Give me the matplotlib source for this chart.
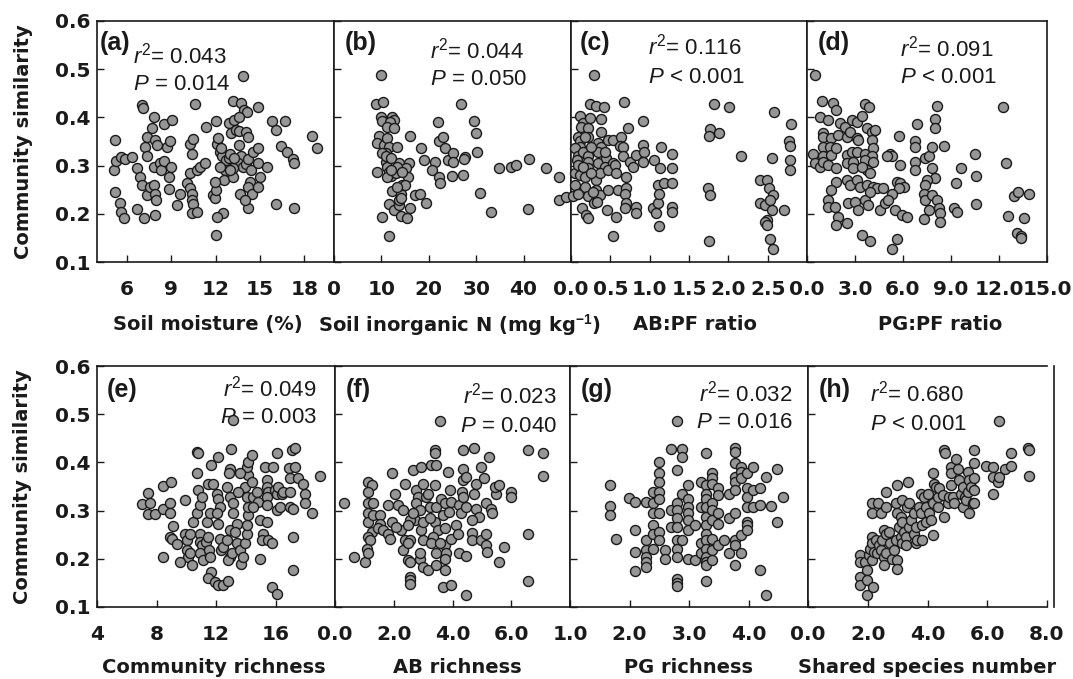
import matplotlib
matplotlib.use('Agg')
import matplotlib.pyplot as plt

plt.rcParams['mathtext.fontset'] = 'custom'
plt.rcParams['mathtext.rm'] = 'Liberation Sans'
plt.rcParams['mathtext.it'] = 'Liberation Sans:italic'
plt.rcParams['mathtext.bf'] = 'Liberation Sans:bold'

# ---------------- data (x, community similarity) ----------------
soil_moisture = [
    (5.22,.353),(5.15,.291),(5.22,.246),(5.27,.310),(5.6,.317),(5.87,.313),(6.38,.317),(5.53,.222),(5.6,.204),(5.82,.191),
    (6.71,.209),(6.71,.294),(6.93,.277),(7.05,.426),(7.11,.419),(7.2,.191),(7.38,.360),(7.27,.339),(7.38,.319),(7.05,.260),
    (7.38,.239),(7.6,.256),(7.87,.260),(7.94,.242),(8.0,.229),(7.71,.377),(7.83,.401),(7.94,.353),(8.05,.343),(7.87,.298),
    (8.22,.305),(8.3,.290),(7.94,.198),(8.5,.386),(9.05,.395),(8.72,.339),(8.94,.350),(8.5,.310),(9.0,.298),(8.83,.277),
    (8.83,.251),(9.6,.242),(9.38,.218),(10.05,.263),(10.27,.253),(10.38,.242),(10.38,.229),(10.45,.220),(10.38,.201),(10.76,.203),
    (10.27,.284),(10.38,.324),(10.31,.345),(10.5,.355),(10.6,.427),(10.72,.291),(10.94,.298),(11.28,.306),(11.39,.381),(11.84,.239),
    (11.95,.232),(12.0,.249),(12.0,.155),(12.0,.393),(12.1,.345),(12.16,.357),(12.28,.329),(12.45,.319),(12.39,.336),(12.61,.291),
    (12.55,.271),(12.73,.312),(12.9,.315),(12.9,.388),(13.06,.367),(13.17,.433),(13.28,.395),(13.39,.374),(13.57,.372),(13.72,.429),
    (13.84,.486),(13.95,.415),(14.1,.412),(13.62,.401),(14.06,.370),(14.17,.360),(13.62,.343),(13.73,.319),(13.5,.305),(13.84,.298),
    (13.66,.241),(14.06,.303),(14.17,.313),(14.39,.290),(14.33,.267),(14.17,.256),(14.44,.242),(14.17,.213),(14.5,.329),(14.84,.336),
    (14.84,.422),(14.84,.306),(15.0,.277),(14.84,.255),(15.5,.298),(15.8,.393),(16.07,.374),(16.07,.220),(16.4,.341),(16.7,.393),
    (16.85,.328),(17.25,.313),(17.3,.305),(17.3,.211),(18.5,.361),(18.85,.337),
    (12.28,.298),(13.17,.294),(13.17,.277),(12.95,.325),(12.5,.201),(12.1,.194),(13.28,.315),(12.95,.291),(11.95,.267),(14.02,.229),
]

soil_n = [
    (9.84,.487),(8.8,.427),(10.4,.431),(9.84,.401),(10.2,.393),(12.3,.401),(12.63,.395),(11.8,.391),(11.24,.381),(12.63,.379),
    (9.49,.361),(9.14,.346),(10.54,.343),(11.24,.357),(11.58,.339),(13.33,.339),(10.89,.327),(16.12,.361),(9.14,.287),
    (10.89,.308),(11.24,.298),(11.58,.287),(11.93,.278),(11.24,.277),(13.68,.306),(15.77,.306),(15.28,.294),(15.56,.277),
    (12.28,.248),(11.58,.220),(12.63,.207),(13.68,.218),(13.68,.229),(14.03,.242),(14.38,.260),(15.07,.260),
    (14.03,.196),(15.42,.191),(15.98,.211),(10.19,.194),(11.58,.154),(17.17,.239),(18.21,.242),(19.47,.222),
    (18.35,.336),(19.05,.312),(21.35,.308),(20.66,.290),(22.05,.277),(22.4,.263),(21.84,.391),(22.05,.350),(23.1,.360),(23.45,.336),
    (24.15,.312),(25.05,.327),(25.19,.308),(24.84,.278),(26.73,.427),(27.63,.317),(27.42,.313),(27.28,.280),
    (29.52,.393),(29.94,.368),(30.08,.329),(30.77,.244),(33.08,.204),(34.82,.294),(37.4,.297),(38.45,.301),
    (41.24,.314),(41.03,.210),(44.73,.294),(47.52,.277),(47.38,.229),(48.92,.234),
    (10.2,.326),(10.89,.319),(11.93,.315),(12.98,.284),(13.33,.298),(14.38,.287),(11.93,.291),(13.33,.256),(14.03,.232),
]

ab_pf_ratio = [
    (0.113,.402),(0.155,.388),(0.24,.398),(0.126,.381),(0.218,.377),(0.387,.396),(0.387,.370),(0.092,.360),(0.113,.350),(0.218,.360),
    (0.113,.339),(0.05,.336),(0.345,.346),(0.387,.339),(0.47,.353),(0.534,.353),(0.639,.360),(0.618,.341),(0.66,.339),(0.092,.319),
    (0.155,.329),(0.218,.319),(0.071,.312),(0.218,.308),(0.345,.329),(0.345,.305),(0.45,.315),(0.429,.298),(0.534,.305),(0.66,.319),
    (0.744,.308),(0.828,.322),(0.912,.343),(0.933,.329),(0.912,.308),(1.059,.312),(1.143,.338),(1.134,.294),(1.29,.324),(1.29,.294),
    (0.05,.284),(0.113,.280),(0.218,.294),(0.176,.277),(0.324,.270),(0.366,.284),(0.47,.291),(0.555,.301),(0.702,.277),(0.05,.260),
    (0.176,.256),(0.218,.236),(0.324,.249),(0.324,.229),(0.366,.239),(0.47,.249),(0.597,.249),(0.702,.253),(0.681,.242),(0.134,.211),
    (0.197,.198),(0.21,.191),(0.294,.222),(0.336,.225),(0.462,.207),(0.576,.194),(0.702,.222),(0.681,.211),(0.828,.215),(0.828,.201),
    (1.038,.211),(1.10,.222),(1.08,.201),(1.122,.175),(1.10,.260),(1.113,.242),(1.185,.263),(1.29,.263),(1.28,.215),(1.29,.204),
    (0.534,.154),(0.294,.487),(0.24,.427),(0.324,.424),(0.42,.421),(0.672,.431),(0.92,.393),(0.723,.379),
    (1.824,.427),(2.013,.421),(1.765,.375),(1.752,.361),(1.878,.367),(2.16,.319),(1.74,.253),(1.773,.239),(1.752,.144),
    (2.58,.412),(2.794,.386),(2.773,.352),(2.78,.341),(2.78,.312),(2.78,.291),(2.55,.316),(2.403,.270),(2.496,.270),(2.52,.253),
    (2.571,.239),(2.403,.223),(2.466,.218),(2.53,.229),(2.55,.207),(2.487,.187),(2.466,.182),(2.496,.177),(2.71,.208),(2.53,.147),
    (2.563,.128),
    (0.02,.236),(0.092,.301),(0.155,.298),(0.26,.284),(0.26,.339),(0.176,.360),(0.092,.242),(0.28,.246),(0.429,.329),(0.576,.284),
    (0.786,.298),
]

pg_pf_ratio = [
    (0.48,.487),(0.96,.433),(1.64,.429),(1.8,.415),(0.8,.401),(1.32,.395),(3.63,.428),(3.9,.421),
    (2.05,.388),(2.37,.381),(2.79,.395),(3.1,.391),(3.42,.402),(1.0,.367),(1.0,.360),(1.53,.357),(1.0,.339),(1.43,.339),
    (1.95,.363),(2.47,.360),(2.68,.370),(3.1,.357),(3.21,.353),(3.73,.377),(4.05,.370),(4.26,.374),(4.05,.353),(0.38,.325),
    (1.0,.319),(1.53,.322),(1.84,.336),(2.47,.322),(2.79,.329),(3.1,.329),(3.63,.325),(4.15,.336),(4.05,.319),(0.48,.305),
    (0.8,.298),(1.0,.308),(1.32,.301),(1.84,.294),(2.47,.305),(2.89,.308),(2.89,.294),(3.63,.312),(4.15,.308),(3.73,.291),
    (3.42,.298),(3.94,.284),(1.84,.265),(2.47,.270),(2.68,.260),(3.1,.270),(3.31,.256),(3.73,.260),(4.15,.256),(4.36,.253),
    (4.78,.253),(1.53,.249),(1.32,.229),(1.32,.215),(1.74,.215),(1.95,.194),(1.8,.177),(2.47,.180),(2.58,.222),(3.0,.225),
    (3.21,.208),(3.63,.229),(3.84,.218),(3.94,.246),(4.57,.207),(4.88,.222),(3.42,.156),(3.94,.144),(5.2,.325),(5.3,.319),
    (4.99,.319),(5.83,.301),(5.72,.361),(5.62,.267),(5.83,.263),(6.04,.256),(5.72,.253),(5.3,.242),(5.09,.229),(5.51,.208),
    (5.93,.198),(6.25,.194),(5.62,.147),(5.3,.128),(6.88,.386),(6.77,.350),(6.77,.339),(6.77,.308),(6.77,.291),(7.4,.315),
    (7.61,.319),(7.82,.339),(8.55,.341),(8.13,.424),(8.03,.396),(8.03,.379),(7.82,.294),(8.03,.274),(7.5,.270),(7.4,.260),
    (7.3,.242),(7.4,.229),(7.82,.239),(8.13,.229),(7.61,.208),(8.24,.211),(8.34,.201),(8.34,.184),(7.3,.189),
    (9.29,.263),(9.6,.294),(9.18,.211),(9.4,.204),(10.48,.324),(10.59,.278),(10.55,.220),(12.22,.421),(12.43,.305),(12.54,.196),
    (12.96,.236),(13.17,.245),(13.9,.242),(13.58,.191),(13.12,.161),(13.37,.153),(13.4,.149),
]

community_richness = [
    (10.70,.377),(10.70,.422),(10.77,.419),(10.48,.277),(10.70,.294),(10.93,.311),(9.92,.322),(9.92,.252),(10.03,.239),(10.03,.218),
    (10.14,.204),(10.26,.211),(10.37,.187),(10.93,.252),(10.93,.235),(11.04,.228),(10.93,.211),(11.15,.197),(11.33,.235),(11.49,.245),
    (11.56,.218),(11.60,.204),(11.65,.173),(11.49,.161),(11.94,.152),(12.16,.145),(12.50,.145),(12.83,.153),(11.38,.277),(11.60,.294),
    (11.49,.356),(11.83,.356),(11.65,.394),(12.16,.412),(12.05,.335),(12.16,.325),(12.27,.308),(12.05,.294),(12.16,.273),(12.27,.242),
    (12.32,.218),(12.50,.225),(12.72,.239),(12.95,.259),(12.95,.204),(12.83,.197),(13.06,.211),(12.99,.427),(12.95,.387),(12.90,.377),
    (12.72,.349),(12.95,.329),(13.17,.315),(13.17,.294),(13.39,.273),(13.28,.256),(13.39,.232),(13.62,.218),(13.66,.190),(13.84,.204),
    (13.96,.232),(14.07,.252),(14.11,.270),(14.18,.290),(14.18,.308),(14.07,.329),(13.96,.349),(14.18,.374),(14.07,.391),(14.18,.401),
    (13.17,.488),(14.40,.360),(14.52,.329),(14.74,.339),(14.85,.318),(14.96,.280),(15.19,.252),(15.08,.239),(14.96,.200),(14.52,.308),
    (15.30,.391),(15.41,.363),(15.41,.349),(15.52,.339),(15.41,.329),(15.41,.311),(15.41,.277),(15.52,.239),(15.75,.232),(15.86,.391),
    (15.97,.342),(16.09,.335),(16.09,.301),(16.20,.349),(16.31,.308),(16.42,.335),(16.53,.339),(16.09,.420),(15.75,.142),(16.09,.126),
    (16.94,.389),(16.98,.367),(16.98,.339),(16.98,.308),(17.09,.425),(17.16,.245),(17.21,.304),(17.32,.391),(17.21,.176),(17.32,.429),
    (17.54,.367),(17.88,.356),(17.99,.335),(17.99,.315),(18.44,.294),(19.0,.372),
    (7.0,.313),(7.45,.337),(7.56,.316),(7.41,.292),(7.90,.293),(8.46,.304),(8.42,.351),(8.96,.360),(8.91,.315),(8.91,.294),
    (9.13,.268),(8.91,.246),(9.02,.242),(8.42,.204),(9.40,.230),(9.58,.193),
    (10.82,.342),(13.5,.339),(13.62,.377),(14.4,.415),(11.04,.329),(10.26,.252),
]

ab_richness = [
    (0.29,.316),(0.63,.204),(1.02,.193),
    (1.14,.360),(1.25,.353),(1.14,.339),(1.14,.315),(1.31,.315),(1.14,.294),(1.14,.277),(1.31,.290),(1.53,.290),(1.53,.273),
    (1.25,.256),(1.14,.245),(1.19,.239),(1.08,.221),(1.14,.211),(1.48,.263),(1.64,.259),(1.81,.252),(1.87,.242),(1.93,.277),
    (1.81,.311),(2.04,.335),(1.93,.378),(2.15,.311),(2.38,.356),(2.32,.301),(2.26,.259),(2.38,.239),(2.32,.218),(2.64,.385),
    (2.94,.391),(2.77,.342),(2.83,.329),(2.77,.315),(2.88,.301),(2.71,.280),(2.55,.280),(2.49,.270),(2.55,.239),(2.49,.232),
    (2.66,.294),(2.49,.197),(2.55,.193),(2.55,.162),(2.55,.155),(2.55,.148),(2.88,.200),(3.0,.183),(2.88,.211),(3.0,.239),
    (2.94,.259),(3.0,.277),(3.11,.329),(3.16,.335),(3.22,.308),(3.0,.356),(3.16,.176),(3.39,.425),(3.42,.419),(3.28,.394),
    (3.45,.394),(3.39,.353),(3.45,.308),(3.39,.277),(3.50,.259),(3.33,.245),(3.28,.232),(3.45,.211),(3.45,.187),(3.61,.325),
    (3.73,.315),(3.67,.290),(3.73,.263),(3.73,.228),(3.78,.211),(3.76,.200),(3.73,.176),(3.84,.380),(3.90,.342),(3.95,.318),
    (3.87,.297),(3.95,.242),(3.67,.142),(3.95,.145),(3.56,.486),(4.12,.270),(4.18,.251),(4.23,.211),(4.46,.205),(4.23,.311),
    (4.29,.294),(4.35,.363),(4.35,.387),(4.32,.339),(4.35,.329),(4.37,.425),(4.46,.308),(4.46,.370),(4.74,.429),(4.80,.356),
    (4.74,.335),(4.80,.304),(4.91,.287),(4.66,.254),(4.68,.239),(4.97,.239),(5.14,.228),(5.19,.214),(4.97,.391),(5.08,.367),
    (5.14,.252),(5.14,.316),(5.30,.304),(5.25,.412),(5.36,.294),(5.47,.335),(5.45,.349),(5.59,.353),(5.75,.225),(5.59,.193),
    (5.98,.339),(5.98,.329),(6.57,.425),(6.57,.251),(6.57,.154),(7.07,.419),(7.07,.371),(4.46,.124),
    (2.09,.266),(3.22,.284),(3.56,.232),(4.68,.280),
]

pg_richness = [
    (1.68,.353),(1.68,.310),(1.68,.291),(1.78,.242),(1.99,.327),
    (2.09,.318),(2.09,.259),(2.09,.214),(2.09,.175),
    (2.28,.317),(2.28,.239),(2.28,.218),(2.28,.204),(2.28,.193),(2.28,.183),
    (2.39,.339),(2.39,.315),(2.39,.294),(2.39,.270),(2.39,.252),(2.39,.221),
    (2.50,.401),(2.50,.377),(2.50,.360),(2.50,.339),(2.50,.325),(2.50,.294),(2.50,.256),(2.50,.240),
    (2.59,.218),(2.59,.200),(2.69,.427),(2.69,.301),(2.69,.266),
    (2.79,.385),(2.79,.315),(2.79,.301),(2.79,.284),(2.79,.266),(2.79,.240),(2.79,.221),(2.79,.204),(2.79,.159),(2.79,.150),(2.79,.143),
    (2.79,.486),
    (2.89,.427),(2.89,.412),(2.89,.335),(2.89,.239),
    (2.98,.353),(2.98,.325),(2.98,.308),(2.98,.294),(2.98,.280),(2.98,.259),(2.98,.200),
    (3.10,.270),(3.10,.197),
    (3.20,.360),(3.20,.308),(3.20,.232),(3.20,.211),
    (3.29,.419),(3.29,.353),(3.29,.335),(3.29,.325),(3.29,.308),(3.29,.287),(3.29,.270),(3.29,.252),(3.29,.239),(3.29,.221),
    (3.29,.204),(3.29,.193),(3.29,.187),(3.29,.154),
    (3.39,.377),(3.39,.367),(3.39,.356),(3.39,.315),(3.39,.301),(3.39,.280),(3.39,.242),(3.39,.218),(3.39,.197),
    (3.49,.346),(3.49,.332),(3.49,.294),(3.49,.273),(3.49,.228),(3.59,.239),
    (3.68,.335),(3.68,.284),(3.68,.211),
    (3.78,.429),(3.78,.422),(3.78,.398),(3.78,.370),(3.78,.360),(3.78,.342),(3.78,.294),(3.78,.239),(3.78,.228),(3.78,.187),
    (3.88,.391),(3.88,.380),(3.88,.367),(3.88,.249),(3.88,.211),
    (3.98,.377),(3.98,.346),(3.98,.329),(3.98,.308),(3.98,.277),(3.98,.270),(3.98,.259),
    (4.08,.391),(4.08,.342),(4.08,.308),(4.19,.346),(4.19,.311),(4.19,.176),
    (4.29,.370),(4.38,.310),(4.48,.387),(4.48,.277),(4.58,.329),(4.29,.124),
]

shared_species = [
    (1.75,.207),(1.75,.193),(1.73,.162),(1.75,.145),(1.92,.193),(1.96,.176),(1.96,.155),(1.98,.124),(2.03,.207),(2.15,.197),
    (2.18,.142),(2.09,.221),(2.15,.245),(2.15,.232),(2.20,.214),(2.26,.239),(2.31,.211),(2.37,.228),(2.43,.218),(2.48,.239),
    (2.54,.204),(2.54,.187),(2.60,.211),(2.15,.315),(2.15,.294),(2.34,.315),(2.43,.294),(2.60,.308),(2.60,.339),(2.54,.259),
    (2.60,.252),(2.71,.256),(2.76,.232),(2.82,.200),(2.88,.218),(2.93,.239),(2.99,.197),(2.99,.178),(2.93,.315),(2.99,.294),
    (3.10,.287),(3.04,.266),(3.10,.245),(3.16,.232),(2.99,.353),(3.16,.322),(3.16,.277),(3.21,.256),(3.27,.245),(3.27,.228),
    (3.33,.308),(3.35,.360),(3.38,.315),(3.38,.266),(3.44,.280),(3.55,.294),(3.55,.252),(3.61,.266),(3.61,.232),(3.66,.239),
    (3.72,.308),(3.78,.294),(3.78,.335),(3.83,.270),(3.83,.239),(3.89,.329),(3.94,.308),(3.94,.277),(4.0,.335),(4.06,.294),
    (4.11,.280),(4.17,.249),(4.17,.377),(4.22,.356),(4.17,.315),(4.28,.349),(4.34,.308),(4.34,.329),(4.39,.346),(4.51,.332),
    (4.56,.287),(4.56,.425),(4.58,.420),(4.67,.315),(4.73,.329),(4.79,.391),(4.79,.377),(4.79,.353),(4.84,.329),(4.90,.315),
    (4.96,.408),(5.01,.387),(5.07,.363),(5.12,.335),(5.18,.308),(5.18,.349),(5.24,.329),(5.29,.322),(5.35,.380),(5.35,.339),
    (5.40,.295),(5.40,.363),(5.46,.349),(5.52,.315),(5.55,.425),(5.57,.398),(5.57,.367),(5.57,.342),(5.57,.315),(5.97,.392),
    (6.19,.391),(6.19,.370),(6.19,.335),(6.36,.360),(6.38,.369),(6.58,.387),(6.79,.392),(6.79,.420),(7.37,.429),(7.39,.425),
    (7.39,.372),(6.39,.486),
]

panel_letters = ['(a)', '(b)', '(c)', '(d)', '(e)', '(f)', '(g)', '(h)']
x_labels = ['Soil moisture (%)', 'Soil inorganic N (mg kg$^{\\mathbf{-1}}$)', 'AB:PF ratio', 'PG:PF ratio',
            'Community richness', 'AB richness', 'PG richness', 'Shared species number']
r2_values = ['0.043', '0.044', '0.116', '0.091', '0.049', '0.023', '0.032', '0.680']
p_values = ['= 0.014', '= 0.050', '< 0.001', '< 0.001', '= 0.003', '= 0.040', '= 0.016', '< 0.001']
x_limits = [(4, 20), (0, 50), (0, 3), (0, 15), (4, 20), (0, 8), (1, 5), (0, 8)]
x_ticks = [[6, 9, 12, 15, 18], [0, 10, 20, 30, 40], [0, 0.5, 1.0, 1.5, 2.0, 2.5], [0, 3, 6, 9, 12, 15],
           [4, 8, 12, 16], [0, 2, 4, 6], [1, 2, 3, 4], [0, 2, 4, 6, 8]]
x_ticklabels = [['6', '9', '12', '15', '18'], ['0', '10', '20', '30', '40'],
                ['0.0', '0.5', '1.0', '1.5', '2.0', '2.5'], ['0.0', '3.0', '6.0', '9.0', '12.0', '15.0'],
                ['4', '8', '12', '16'], ['0.0', '2.0', '4.0', '6.0'], ['1.0', '2.0', '3.0', '4.0'],
                ['0.0', '2.0', '4.0', '6.0', '8.0']]
y_ticks = [0.1, 0.2, 0.3, 0.4, 0.5, 0.6]
y_ticklabels = ['0.1', '0.2', '0.3', '0.4', '0.5', '0.6']
datasets = [soil_moisture, soil_n, ab_pf_ratio, pg_pf_ratio,
            community_richness, ab_richness, pg_richness, shared_species]

# ---------------- layout (pixels) ----------------
W, H = 1073, 679
fig = plt.figure(figsize=(W / 100, H / 100), dpi=100)
fig.patch.set_facecolor('white')

boxes = [
    (97, 334, 21, 262), (334, 571, 21, 262), (571, 807, 21, 262), (807, 1047, 21, 262),
    (97, 335, 366, 607), (335, 570, 366, 607), (570, 808, 366, 607), (808, 1047, 366, 607),
]
# annotation placement (axes fraction)
txt_x = [0.152, 0.405, 0.326, 0.388, 0.924, 0.945, 0.937, 0.26]
txt_ha = ['left', 'left', 'left', 'left', 'right', 'right', 'right', 'left']
r2_y = [0.825, 0.845, 0.859, 0.852, 0.873, 0.845, 0.852, 0.852]
p_y = [0.714, 0.734, 0.741, 0.741, 0.762, 0.727, 0.741, 0.734]
letter_x = [0.013, 0.046, 0.038, 0.046, 0.04, 0.046, 0.046, 0.046]
letter_y = [0.908, 0.908, 0.908, 0.908, 0.90, 0.90, 0.90, 0.90]
xlabel_x = [0.466, 0.53, 0.525, 0.554, 0.49, 0.52, 0.5, 0.5]

DARK = '#1a1a1a'
BOLD = dict(family='DejaVu Sans', weight='bold')

for i, (l, r, t, b) in enumerate(boxes):
    ax = fig.add_axes([l / W, 1 - b / H, (r - l) / W, (b - t) / H])
    xs = [p[0] for p in datasets[i]]
    ys = [p[1] for p in datasets[i]]
    ax.scatter(xs, ys, s=52, facecolor='#969696', edgecolor=DARK, linewidths=1.0, zorder=3, clip_on=False)
    ax.set_xlim(*x_limits[i])
    ax.set_ylim(0.1, 0.6)
    ax.set_xticks(x_ticks[i])
    ax.set_xticklabels(x_ticklabels[i], fontsize=14.5, color=DARK, **BOLD)
    ax.set_yticks(y_ticks)
    if i in (0, 4):
        ax.set_yticklabels(y_ticklabels, fontsize=14.5, color=DARK, **BOLD)
        ax.set_ylabel('Community similarity', fontsize=14, color=DARK, **BOLD)
        ax.yaxis.set_label_coords(-0.312, 0.5)
        ax.yaxis.label.set_va('center')
    else:
        ax.set_yticklabels([])
    ax.tick_params(axis='x', direction='in', length=5, width=1.0, pad=13, colors=DARK)
    ax.tick_params(axis='y', direction='in', length=5, width=1.0, pad=5, colors=DARK)
    for sp in ax.spines.values():
        sp.set_color(DARK)
        sp.set_linewidth(1.2)
    if i == 7:
        ax.spines['right'].set_position(('outward', 5))
    ax.set_xlabel(x_labels[i], fontsize=14, color=DARK, **BOLD)
    ax.xaxis.set_label_coords(xlabel_x[i], -0.26 if i < 4 else -0.253)
    ax.xaxis.label.set_va('center')

    ax.text(letter_x[i], letter_y[i], panel_letters[i], transform=ax.transAxes, ha='left', va='center',
            fontsize=18, family='Liberation Sans', weight='bold', color=DARK, zorder=2)
    ax.text(txt_x[i], r2_y[i], '$r^2$= ' + r2_values[i], transform=ax.transAxes, ha=txt_ha[i],
            va='baseline', fontsize=16, family='Liberation Sans', color=DARK, zorder=2)
    ax.text(txt_x[i], p_y[i], '$P$ ' + p_values[i], transform=ax.transAxes, ha=txt_ha[i],
            va='baseline', fontsize=16, family='Liberation Sans', color=DARK, zorder=2)

fig.savefig('out.png', dpi=100, facecolor='white')
